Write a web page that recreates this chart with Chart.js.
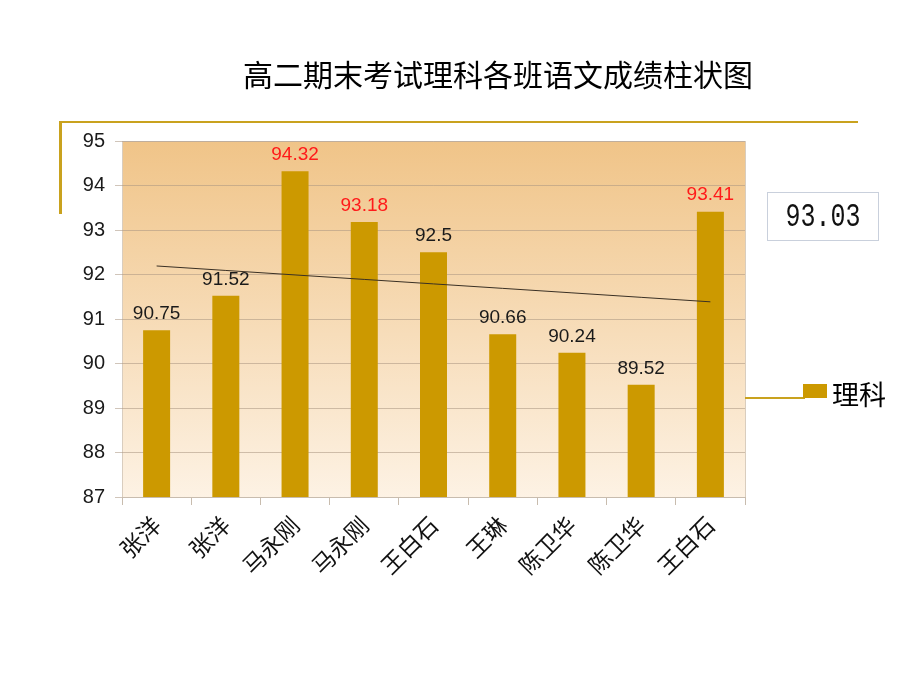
<!DOCTYPE html>
<html><head><meta charset="utf-8">
<script src="https://cdn.jsdelivr.net/npm/chart.js@4"></script>
<style>
html,body{margin:0;padding:0;background:#fff;}
#wrap{position:relative;width:920px;height:690px;}
canvas{position:absolute;left:0;top:0;}
.deco{position:absolute;background:#C9A21E;}
#title{position:absolute;left:0;width:996px;top:51px;text-align:center;font-family:"Noto Sans CJK SC","DejaVu Serif",serif;font-size:30px;color:#000;}
#box{position:absolute;left:767px;top:192px;width:112px;height:49px;border:1px solid #C9D0DC;box-sizing:border-box;text-align:center;}
#box span{display:inline-block;font-family:"Liberation Mono","DejaVu Sans Mono",monospace;font-size:25px;line-height:49px;transform:scale(1,1.3);color:#111;}
#legend{position:absolute;left:832px;top:378px;font-family:"Noto Sans CJK SC",sans-serif;font-size:27px;line-height:32px;color:#000;}
#legsq{position:absolute;left:803px;top:384px;width:24px;height:14px;background:#CC9900;}
</style></head>
<body><div id="wrap">
<canvas id="c" width="920" height="690"></canvas>
<div id="title">高二期末考试理科各班语文成绩柱状图</div>
<div class="deco" style="left:60px;top:121px;width:798px;height:2px;"></div>
<div class="deco" style="left:59px;top:121px;width:3px;height:93px;"></div>
<div class="deco" style="left:745px;top:397px;width:60px;height:2px;"></div>
<div id="legsq"></div>
<div id="legend">理科</div>
<div id="box"><span>93.03</span></div>
</div>
<script>
const categories = ["张洋","张洋","马永刚","马永刚","王白石","王琳","陈卫华","陈卫华","王白石"];
const scores = [90.75, 91.52, 94.32, 93.18, 92.5, 90.66, 90.24, 89.52, 93.41];
const yTicks = [87, 88, 89, 90, 91, 92, 93, 94, 95];

// linear trendline (least squares) derived from the scores
const n = scores.length;
const xm = (n + 1) / 2;
const ym = scores.reduce((a, b) => a + b, 0) / n;
let sxy = 0, sxx = 0;
scores.forEach((v, i) => { const dx = (i + 1) - xm; sxy += dx * (v - ym); sxx += dx * dx; });
const slope = sxy / sxx;
const trend = scores.map((v, i) => ym + slope * ((i + 1) - xm));

const bgPlugin = {
  id: 'bg',
  beforeDraw(chart) {
    const {ctx, chartArea: a} = chart;
    const g = ctx.createLinearGradient(0, a.top, 0, a.bottom);
    g.addColorStop(0, '#F0C488');
    g.addColorStop(1, '#FDF2E4');
    ctx.save();
    ctx.fillStyle = g;
    ctx.fillRect(a.left, a.top, a.right - a.left, a.bottom - a.top);
    ctx.strokeStyle = '#D9CDBE';
    ctx.lineWidth = 1;
    ctx.strokeRect(a.left + 0.5, a.top + 0.5, a.right - a.left, a.bottom - a.top);
    ctx.restore();
  }
};
const labelPlugin = {
  id: 'vals',
  afterDatasetsDraw(chart) {
    const ctx = chart.ctx;
    const meta = chart.getDatasetMeta(1);
    ctx.save();
    ctx.font = '19px "Liberation Sans", Arial, sans-serif';
    ctx.textAlign = 'center';
    ctx.textBaseline = 'bottom';
    meta.data.forEach((bar, i) => {
      const v = scores[i];
      ctx.fillStyle = v >= 93 ? '#FF1A1A' : '#1a1a1a';
      ctx.fillText(String(v), bar.x, bar.y - 7);
    });
    ctx.restore();
  }
};

new Chart(document.getElementById('c'), {
  data: {
    labels: categories,
    datasets: [
      { type: 'line', data: trend, borderColor: '#3a3024', borderWidth: 1, pointRadius: 0, fill: false, order: 0 },
      { type: 'bar', data: scores, backgroundColor: '#CC9900', barPercentage: 0.39, categoryPercentage: 1, order: 1 }
    ]
  },
  options: {
    responsive: false,
    animation: false,
    layout: { padding: { left: 55, right: 175, top: 141, bottom: 60 } },
    plugins: { legend: { display: false }, tooltip: { enabled: false } },
    scales: {
      x: {
        grid: { display: true, drawOnChartArea: false, offset: true, tickLength: 8, color: '#C8BCAE' },
        border: { color: '#C8BCAE' },
        ticks: {
          autoSkip: false, maxRotation: 45, minRotation: 45, color: '#111', padding: 6,
          font: { size: 23, family: '"Noto Sans CJK SC", sans-serif' }
        },
        afterFit(s) { s.height = 133; }
      },
      y: {
        min: 87, max: 95,
        afterBuildTicks(s) { s.ticks = yTicks.map(v => ({ value: v })); },
        grid: { color: 'rgba(170,150,130,0.55)', tickLength: 7 },
        border: { display: false },
        ticks: { color: '#1a1a1a', padding: 10, font: { size: 20, family: '"Liberation Sans", Arial, sans-serif' } },
        afterFit(s) { s.width = 67; }
      }
    }
  },
  plugins: [bgPlugin, labelPlugin]
});
</script>
</body></html>
